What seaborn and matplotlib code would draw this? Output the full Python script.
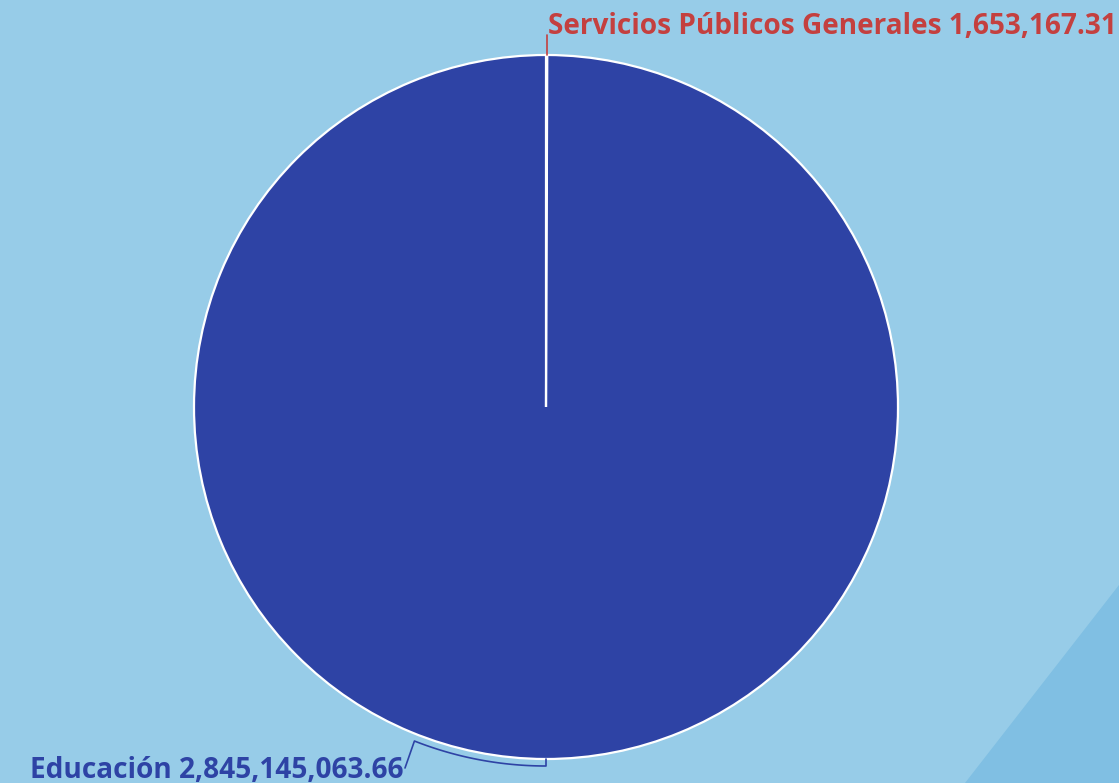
import numpy as np
import seaborn as sns
import matplotlib.pyplot as plt
from matplotlib.patches import Polygon

# datos
categorias = ["Servicios Públicos Generales", "Educación"]
valores = [1653167.31, 2845145063.66]
colores_texto = ["#C4403F", "#2E43A5"]
color_pie = "#2E43A5"
fondo = "#97CCE8"

sns.set_theme(style="white")
plt.rcParams["font.family"] = ["Open Sans", "DejaVu Sans"]

W, H = 1119, 783
fig = plt.figure(figsize=(W / 100, H / 100), dpi=100, facecolor=fondo)
ax = fig.add_axes([0, 0, 1, 1])
ax.set_facecolor(fondo)

# triangulo decorativo
ax.add_patch(Polygon([[W, H - 585], [W, 0], [965, 0]], closed=True,
                     facecolor="#80BFE3", edgecolor="none", zorder=0))

cx, cy, r = 546, H - 407, 352
wedges, _ = ax.pie(valores, colors=[color_pie, color_pie], startangle=90,
                   counterclock=False, center=(cx, cy), radius=r,
                   wedgeprops=dict(edgecolor="white", linewidth=1.6),
                   frame=True)
ax.set_xlim(0, W)
ax.set_ylim(0, H)
ax.set_aspect("equal")
ax.axis("off")

total = sum(valores)

# etiqueta 1: Servicios Publicos (tajada minima arriba)
ang = np.deg2rad(90 - 360 * valores[0] / total / 2)
x0, y0 = cx + r * np.cos(ang), cy + r * np.sin(ang)
ax.plot([x0, x0], [y0, H - 35], color=colores_texto[0], lw=1.2)
ax.text(x0 + 1, H - 34, f"{categorias[0]} {valores[0]:,.2f}",
        color=colores_texto[0], fontsize=20.2, fontweight="bold",
        ha="left", va="baseline")

# etiqueta 2: Educacion (corchete bajo la tarta)
r2 = r + 7
arco = np.deg2rad(np.linspace(-90, -111.5, 40))
xs = np.r_[cx, cx + r2 * np.cos(arco)]
ys = np.r_[cy - r, cy + r2 * np.sin(arco)]
xs = np.r_[xs, 405]
ys = np.r_[ys, H - 768]
ax.plot(xs, ys, color=colores_texto[1], lw=1.2)
ax.text(404, H - 778, f"{categorias[1]} {valores[1]:,.2f}",
        color=colores_texto[1], fontsize=20.2, fontweight="bold",
        ha="right", va="baseline")

fig.savefig("out.png", dpi=100, facecolor=fondo)
